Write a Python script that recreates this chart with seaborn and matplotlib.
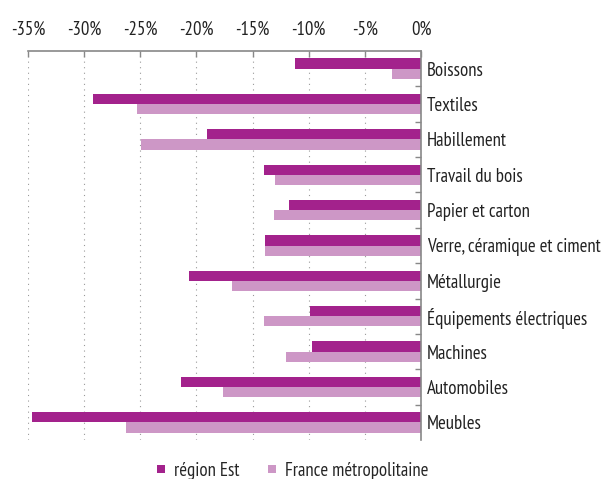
import matplotlib
matplotlib.use("Agg")
import matplotlib.pyplot as plt
import pandas as pd
import seaborn as sns

categories = ["Boissons", "Textiles", "Habillement", "Travail du bois",
              "Papier et carton", "Verre, céramique et ciment", "Métallurgie",
              "Équipements électriques", "Machines", "Automobiles", "Meubles"]
est = [-11.2, -29.2, -19.1, -14.0, -11.8, -13.9, -20.7, -9.9, -9.7, -21.4, -34.6]
france = [-2.6, -25.3, -24.9, -13.0, -13.1, -13.9, -16.8, -14.0, -12.0, -17.6, -26.3]
series = ["région Est", "France métropolitaine"]
colors = ["#a3228c", "#cd97c6"]
xticks = [-35, -30, -25, -20, -15, -10, -5, 0]

df = pd.DataFrame({"cat": categories * 2,
                   "val": est + france,
                   "serie": [series[0]] * len(est) + [series[1]] * len(france)})

sns.set_theme(style="white")
plt.rcParams["font.family"] = ["PT Sans Narrow", "DejaVu Sans"]

fig = plt.figure(figsize=(6.11, 4.79), dpi=100)
ax = fig.add_axes([28 / 611, 1 - 440 / 479, 393 / 611, 389 / 479])

sns.barplot(data=df, x="val", y="cat", hue="serie", orient="h",
            palette=colors, width=0.58, ax=ax, legend=False,
            saturation=1, linewidth=0)

ax.set_xlim(-35, 0)
ax.set_ylim(len(categories) - 0.5, -0.5)
ax.set_xlabel("")
ax.set_ylabel("")

# x axis on top
ax.xaxis.tick_top()
ax.set_xticks(xticks)
ax.set_xticklabels([f"{t}%" for t in xticks], fontsize=13.5, color="#222222")
ax.tick_params(axis="x", direction="in", length=4, width=1, color="#888888", pad=9)
ax.grid(axis="x", linestyle=(0, (1, 4)), color="#999999", linewidth=0.8)
ax.set_axisbelow(True)

# y axis on right, marks at category boundaries
ax.yaxis.tick_right()
ax.tick_params(axis="y", which="major", length=0, labelsize=13.5, pad=4, labelcolor="#222222")
ax.set_yticks([i + 0.5 for i in range(len(categories) - 1)], minor=True)
ax.tick_params(axis="y", which="minor", direction="in", length=4, width=1, color="#888888")

for s in ["left", "bottom"]:
    ax.spines[s].set_visible(False)
for s in ["top", "right"]:
    ax.spines[s].set_color("#888888")
    ax.spines[s].set_linewidth(1.2)

handles = [plt.Line2D([], [], marker="s", linestyle="", markersize=6,
                      markerfacecolor=c, markeredgewidth=0) for c in colors]
fig.legend(handles, series, loc="center", bbox_to_anchor=(290 / 611, 1 - 471 / 479),
           ncol=2, frameon=False, fontsize=13.5, handletextpad=0.2,
           columnspacing=1.2, handlelength=1.0)

fig.savefig("out.png", dpi=100)
